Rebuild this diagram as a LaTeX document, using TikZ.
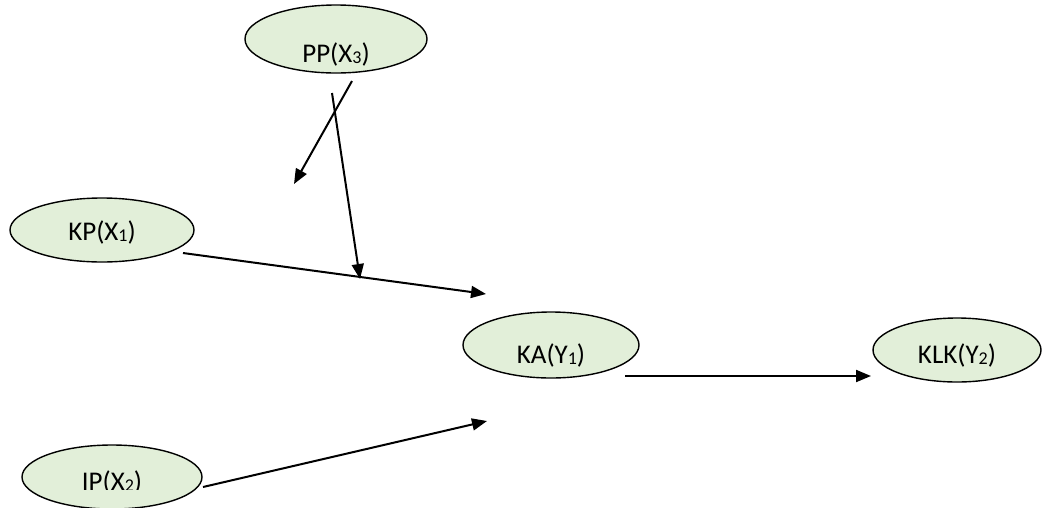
\documentclass[tikz,border=0pt]{standalone}
\usepackage{fontspec}
\setmainfont{Carlito}
\usetikzlibrary{arrows.meta,shapes.geometric}
\definecolor{ellfill}{RGB}{226,239,217}
\newcommand{\lowsub}[1]{\raisebox{-1pt}{\fontsize{18}{18}\selectfont #1}}
\tikzset{
  var/.style={ellipse, draw=black, line width=1.4pt, fill=ellfill, inner sep=0pt},
  lbl/.style={font=\fontsize{27}{27}\selectfont, inner sep=0pt, anchor=base},
  arr/.style={line width=2pt, -{Triangle[length=15pt,width=12pt]}}
}
\begin{document}
\begin{tikzpicture}[x=1pt,y=-1pt]
\useasboundingbox (0,0) rectangle (1043,507);
% ellipses
\node[var, minimum width=182pt, minimum height=68pt] (pp) at (336,39) {};
\node[var, minimum width=184pt, minimum height=64pt] (kp) at (102,230) {};
\node[var, minimum width=176pt, minimum height=66pt] (ka) at (551,345) {};
\node[var, minimum width=168pt, minimum height=64pt] (klk) at (957,350) {};
\node[var, minimum width=180pt, minimum height=64pt] (ip) at (112,477) {};
% labels (bottoms clipped as in the original text boxes)
\begin{scope}
\clip (240,0) rectangle (430,71);
\node[lbl] (tpp) at (336,62) {PP(X\lowsub{3})};
\end{scope}
\node[lbl] (tkp) at (102,240) {KP(X\lowsub{1})};
\begin{scope}
\clip (460,300) rectangle (640,366);
\node[lbl] (tka) at (551,363) {KA(Y\lowsub{1})};
\end{scope}
\node[lbl] (tklk) at (957,363) {KLK(Y\lowsub{2})};
\begin{scope}
\clip (0,440) rectangle (210,489);
\node[lbl] (tip) at (112,490) {IP(X\lowsub{2})};
\end{scope}
% free ends
\coordinate (a1s) at (352,81);
\coordinate (a1e) at (294,184);
\coordinate (a2s) at (332,93);
\coordinate (a2e) at (360,279);
\coordinate (a3s) at (183,253);
\coordinate (a3e) at (486,294);
\coordinate (a4s) at (203,487);
\coordinate (a4e) at (487,421);
\coordinate (a5s) at (625,376);
\coordinate (a5e) at (871,376);
% connectors
\draw[arr] (a1s) -- (a1e);
\draw[arr] (a2s) -- (a2e);
\draw[arr] (a3s) -- (a3e);
\draw[arr] (a4s) -- (a4e);
\draw[arr] (a5s) -- (a5e);
\end{tikzpicture}
\end{document}
